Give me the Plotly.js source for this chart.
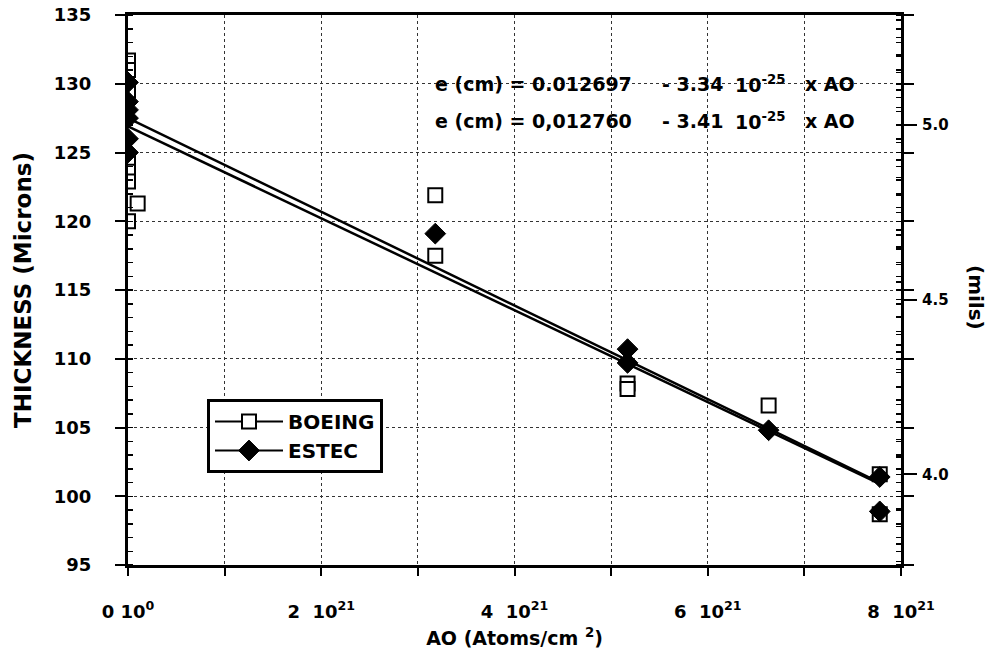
<!DOCTYPE html>
<html>
<head>
<meta charset="utf-8">
<script src="https://cdn.plot.ly/plotly-3.0.1.min.js"></script>
<style>html,body{margin:0;padding:0;background:#fff;}#chart{width:991px;height:657px;}</style>
</head>
<body>
<div id="chart"></div>
<script>
// ---- data ----
const boeingX = [0, 0, 0, 0, 0, 0, 0, 0.1e21, 3.18e21, 3.18e21, 5.17e21, 5.17e21, 6.63e21, 7.78e21, 7.78e21];
const boeingY = [131.7, 131.0, 129.5, 124.3, 123.6, 122.9, 120.0, 121.3, 121.9, 117.5, 108.2, 107.8, 106.6, 101.6, 98.7];
const estecX = [0, 0, 0, 0, 0, 0, 3.18e21, 5.17e21, 5.17e21, 6.63e21, 7.78e21, 7.78e21];
const estecY = [130.1, 128.7, 128.1, 127.5, 126.0, 125.0, 119.1, 110.7, 109.7, 104.8, 101.4, 98.9];
const fitX = [0, 7.78e21];
const boeingFitY = [126.9, 100.9];
const estecFitY = [127.5, 101.0];
const xTickVals = [0, 2e21, 4e21, 6e21, 8e21];
const xTickText = ['0 10<sup>0</sup>', '2&nbsp; 10<sup>21</sup>', '4&nbsp; 10<sup>21</sup>', '6&nbsp; 10<sup>21</sup>', '8&nbsp; 10<sup>21</sup>'];
const yTickVals = [95, 100, 105, 110, 115, 120, 125, 130, 135];
const yTickText = ['95', '100', '105', '110', '115', '120', '125', '130', '135'];
const milsTickVals = [4.0, 4.5, 5.0];
const milsTickText = ['4.0', '4.5', '5.0'];
// equation pieces: [left part, coefficient, power of ten, tail]
const eqLine1 = ['e (cm) = 0.012697', '- 3.34', '10<sup>-25</sup>', 'x AO'];
const eqLine2 = ['e (cm) = 0,012760', '- 3.41', '10<sup>-25</sup>', 'x AO'];
const micronsPerMil = 25.4;

// interleave nulls so that the legend shows line+marker but points are not joined
function gapped(arr) { const o = []; arr.forEach(v => { o.push(v); o.push(null); }); return o; }
const bold = arr => arr.map(t => '<b>' + t + '</b>');

const FONT = 'DejaVu Sans, Liberation Sans, Arial, sans-serif';
const B = 700;

const traces = [
  { x: fitX, y: boeingFitY, mode: 'lines', line: {color: '#000', width: 2.5}, showlegend: false, hoverinfo: 'skip' },
  { x: fitX, y: estecFitY, mode: 'lines', line: {color: '#000', width: 2.5}, showlegend: false, hoverinfo: 'skip' },
  { x: gapped(boeingX), y: gapped(boeingY), name: 'BOEING', mode: 'lines+markers', connectgaps: false,
    line: {color: '#000', width: 2},
    marker: {symbol: 'square', size: 14, color: '#fff', line: {color: '#000', width: 2}} },
  { x: gapped(estecX), y: gapped(estecY), name: 'ESTEC', mode: 'lines+markers', connectgaps: false,
    line: {color: '#000', width: 2},
    marker: {symbol: 'diamond', size: 16, color: '#000', line: {color: '#000', width: 1}} }
];

const yMin = 95, yMax = 135;

// plot area in paper fractions for annotation placement
const L = 128, R = 90, T = 15, Bm = 92, W = 991, H = 657;
const px = x => (x - L) / (W - L - R);
const py = y => (H - Bm - y) / (H - T - Bm);

const eqX = [433, 660, 733, 803];
const annotations = [];
[eqLine1, eqLine2].forEach((line, i) => {
  const yy = [84, 121][i];
  line.forEach((part, j) => {
    annotations.push({xref: 'paper', yref: 'paper', x: px(eqX[j]), y: py(yy), xanchor: 'left', yanchor: 'middle',
      showarrow: false, text: '<b>' + part + '</b>', font: {family: FONT, size: 19, weight: B, color: '#000'}});
  });
});
annotations.push({xref: 'paper', yref: 'paper', x: px(976), y: py(297), xanchor: 'center', yanchor: 'middle',
  showarrow: false, text: '<b>(mils)</b>', textangle: 90, font: {family: FONT, size: 20, weight: B, color: '#000'}});

const layout = {
  width: W, height: H,
  margin: {l: L, r: R, t: T, b: Bm},
  paper_bgcolor: '#fff', plot_bgcolor: '#fff',
  font: {family: FONT, color: '#000', size: 18, weight: B},
  showlegend: true,
  legend: {
    x: px(207), y: py(399), xanchor: 'left', yanchor: 'top',
    bgcolor: '#fff', bordercolor: '#000', borderwidth: 3,
    font: {family: FONT, size: 20, weight: B, color: '#000'},
    itemwidth: 68, tracegroupgap: 0
  },
  xaxis: {
    range: [0, 8e21], tickmode: 'array', tickvals: xTickVals, ticktext: bold(xTickText),
    showgrid: true, gridcolor: '#333', griddash: 'dot', gridwidth: 1,
    minor: {dtick: 1e21, tick0: 0, showgrid: true, gridcolor: '#333', griddash: 'dot', gridwidth: 1,
            ticks: 'outside', ticklen: 8, tickwidth: 2, tickcolor: '#000'},
    zeroline: false, showline: true, linecolor: '#000', linewidth: 3, mirror: true,
    ticks: 'outside', ticklen: 8, tickwidth: 2, tickcolor: '#000',
    ticklabelstandoff: 20,
    tickfont: {family: FONT, size: 18, weight: B},
    title: {text: '<b>AO (Atoms/cm <sup>2</sup>)</b>', font: {family: FONT, size: 19, weight: B}, standoff: 12}
  },
  yaxis: {
    range: [yMin, yMax], tickmode: 'array', tickvals: yTickVals, ticktext: bold(yTickText),
    showgrid: true, gridcolor: '#333', griddash: 'dot', gridwidth: 1,
    zeroline: false, showline: true, linecolor: '#000', linewidth: 3, mirror: 'ticks',
    ticks: 'outside', ticklen: 10, tickwidth: 2, tickcolor: '#000',
    ticklabelstandoff: 20,
    minor: {dtick: 1, tick0: 95, ticks: 'inside', ticklen: 5, tickwidth: 1.5, tickcolor: '#000', showgrid: false},
    tickfont: {family: FONT, size: 18, weight: B},
    title: {text: '<b>THICKNESS (Microns)</b>', font: {family: FONT, size: 23, weight: B}, standoff: 16}
  },
  yaxis2: {
    overlaying: 'y', side: 'right', anchor: 'x',
    range: [yMin / micronsPerMil, yMax / micronsPerMil],
    tickmode: 'array', tickvals: milsTickVals, ticktext: bold(milsTickText),
    showgrid: false, zeroline: false, showline: true, linecolor: '#000', linewidth: 3,
    ticks: 'outside', ticklen: 13, tickwidth: 2, tickcolor: '#000',
    ticklabelstandoff: 2,
    minor: {dtick: 0.05, ticks: 'inside', ticklen: 5, tickwidth: 1.5, tickcolor: '#000', showgrid: false},
    tickfont: {family: FONT, size: 15, weight: B}
  },
  annotations: annotations
};

// invisible trace so that yaxis2 is bound
traces.push({x: [0], y: [4.5], yaxis: 'y2', mode: 'markers', marker: {opacity: 0}, showlegend: false, hoverinfo: 'skip'});

Plotly.newPlot('chart', traces, layout, {displayModeBar: false, staticPlot: true});
</script>
</body>
</html>
